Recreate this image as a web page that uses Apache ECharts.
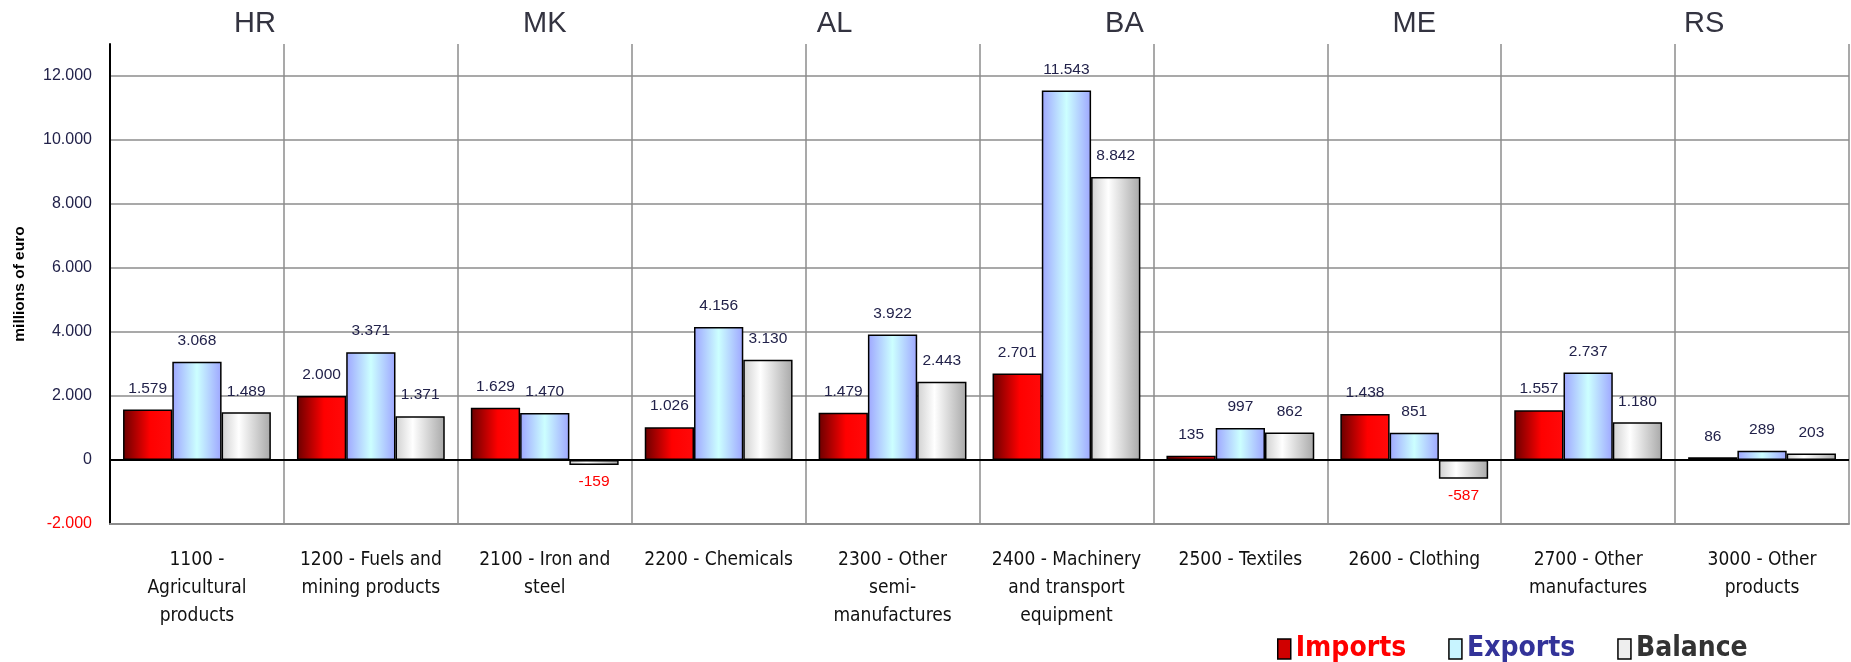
<!DOCTYPE html>
<html>
<head>
<meta charset="utf-8">
<script src="https://cdn.jsdelivr.net/npm/echarts@6/dist/echarts.min.js"></script>
<style>
  html, body { margin: 0; padding: 0; background: #fff; }
  #chart { width: 1851px; height: 662px; }
</style>
</head>
<body>
<div id="chart"></div>
<script>
const categories = [
  '1100 -\nAgricultural\nproducts',
  '1200 - Fuels and\nmining products',
  '2100 - Iron and\nsteel',
  '2200 - Chemicals',
  '2300 - Other\nsemi-\nmanufactures',
  '2400 - Machinery\nand transport\nequipment',
  '2500 - Textiles',
  '2600 - Clothing',
  '2700 - Other\nmanufactures',
  '3000 - Other\nproducts'
];
const countries = ['HR', 'MK', 'AL', 'BA', 'ME', 'RS'];
const imports = [1579, 2000, 1629, 1026, 1479, 2701, 135, 1438, 1557, 86];
const exports = [3068, 3371, 1470, 4156, 3922, 11543, 997, 851, 2737, 289];
const balance = [1489, 1371, -159, 3130, 2443, 8842, 862, -587, 1180, 203];

// 1.579 style thousands
const fmt = (v) => {
  const s = String(Math.abs(v)).replace(/\B(?=(\d{3})+(?!\d))/g, '.');
  return (v < 0 ? '-' : '') + s;
};

const grad = (stops) => new echarts.graphic.LinearGradient(0, 0, 1, 0,
  stops.map(([offset, color]) => ({ offset, color })));

const withLabels = (arr) => arr.map((v) => (v < 0
  ? { value: v, label: { position: 'bottom', distance: 9, color: '#ff0000' } }
  : v));

const barStyle = (fill) => ({ color: fill, borderColor: '#000', borderWidth: 1.5 });

const labelStyle = {
  show: true,
  position: 'top',
  distance: 13,
  fontFamily: 'Liberation Sans, Arial, sans-serif',
  fontSize: 15.5,
  color: '#22224a',
  formatter: (p) => fmt(p.value)
};

const chart = echarts.init(document.getElementById('chart'));

chart.setOption({
  animation: false,
  backgroundColor: '#fff',
  grid: { left: 110, right: 2, top: 44, bottom: 138, containLabel: false },
  legend: {
    left: 1272,
    top: 630,
    icon: 'rect',
    itemWidth: 13,
    itemHeight: 20,
    itemGap: 42,
    textStyle: {
      fontFamily: 'DejaVu Sans Condensed, DejaVu Sans, sans-serif',
      fontWeight: 'bold',
      fontSize: 28
    },
    data: [
      { name: 'Imports', itemStyle: { color: '#d00000', borderColor: '#000', borderWidth: 1.5 }, textStyle: { color: '#ff0000' } },
      { name: 'Exports', itemStyle: { color: '#c8f4ff', borderColor: '#000', borderWidth: 1.5 }, textStyle: { color: '#333399' } },
      { name: 'Balance', itemStyle: { color: '#eeeeee', borderColor: '#000', borderWidth: 1.5 }, textStyle: { color: '#333333' } }
    ]
  },
  xAxis: [
    {
      type: 'category',
      data: categories,
      position: 'bottom',
      axisLine: { onZero: false, lineStyle: { color: '#8c8c8c', width: 2 } },
      axisTick: { show: false },
      splitLine: { show: true, lineStyle: { color: '#8c8c8c', width: 1.5 } },
      axisLabel: {
        margin: 22,
        interval: 0,
        fontFamily: 'DejaVu Sans Condensed, DejaVu Sans, sans-serif',
        fontSize: 19,
        lineHeight: 28,
        color: '#111'
      }
    },
    {
      type: 'category',
      data: countries,
      position: 'top',
      axisLine: { show: false },
      axisTick: { show: false },
      splitLine: { show: false },
      axisLabel: {
        margin: 6,
        fontFamily: 'Liberation Sans, Arial, sans-serif',
        fontSize: 29,
        color: '#333340'
      }
    }
  ],
  yAxis: {
    type: 'value',
    min: -2000,
    max: 13000,
    interval: 2000,
    name: 'millions of euro',
    nameLocation: 'middle',
    nameGap: 82,
    nameTextStyle: {
      fontFamily: 'Liberation Sans, Arial, sans-serif',
      fontWeight: 'bold',
      fontSize: 15.5,
      color: '#000'
    },
    axisLine: { show: true, lineStyle: { color: '#000', width: 2 } },
    axisTick: { show: false },
    splitLine: {
      show: true,
      showMinLine: false,
      showMaxLine: false,
      lineStyle: { color: '#8c8c8c', width: 1.5 }
    },
    axisLabel: {
      showMaxLabel: false,
      margin: 18,
      fontFamily: 'Liberation Sans, Arial, sans-serif',
      fontSize: 16,
      color: '#22224a',
      formatter: (v) => (v < 0 ? '{neg|' + fmt(v) + '}' : fmt(v)),
      rich: { neg: { color: '#ff0000', fontSize: 16, fontFamily: 'Liberation Sans, Arial, sans-serif' } }
    }
  },
  series: [
    {
      name: 'Imports',
      type: 'bar',
      barGap: '0%',
      barCategoryGap: '15%',
      data: withLabels(imports),
      itemStyle: barStyle(grad([[0, '#6a0000'], [0.55, '#ff0000'], [1, '#ff0a0a']])),
      label: labelStyle,
      markLine: {
        silent: true,
        symbol: 'none',
        label: { show: false },
        lineStyle: { color: '#000', width: 2, type: 'solid' },
        data: [{ yAxis: 0 }]
      }
    },
    {
      name: 'Exports',
      type: 'bar',
      barGap: '0%',
      barCategoryGap: '15%',
      data: withLabels(exports),
      itemStyle: barStyle(grad([[0, '#9ea6ff'], [0.5, '#ccffff'], [1, '#9ea6ff']])),
      label: labelStyle
    },
    {
      name: 'Balance',
      type: 'bar',
      barGap: '0%',
      barCategoryGap: '15%',
      data: withLabels(balance),
      itemStyle: barStyle(grad([[0, '#d0d0d0'], [0.35, '#ffffff'], [1, '#a8a8a8']])),
      label: labelStyle
    }
  ]
});
</script>
</body>
</html>
